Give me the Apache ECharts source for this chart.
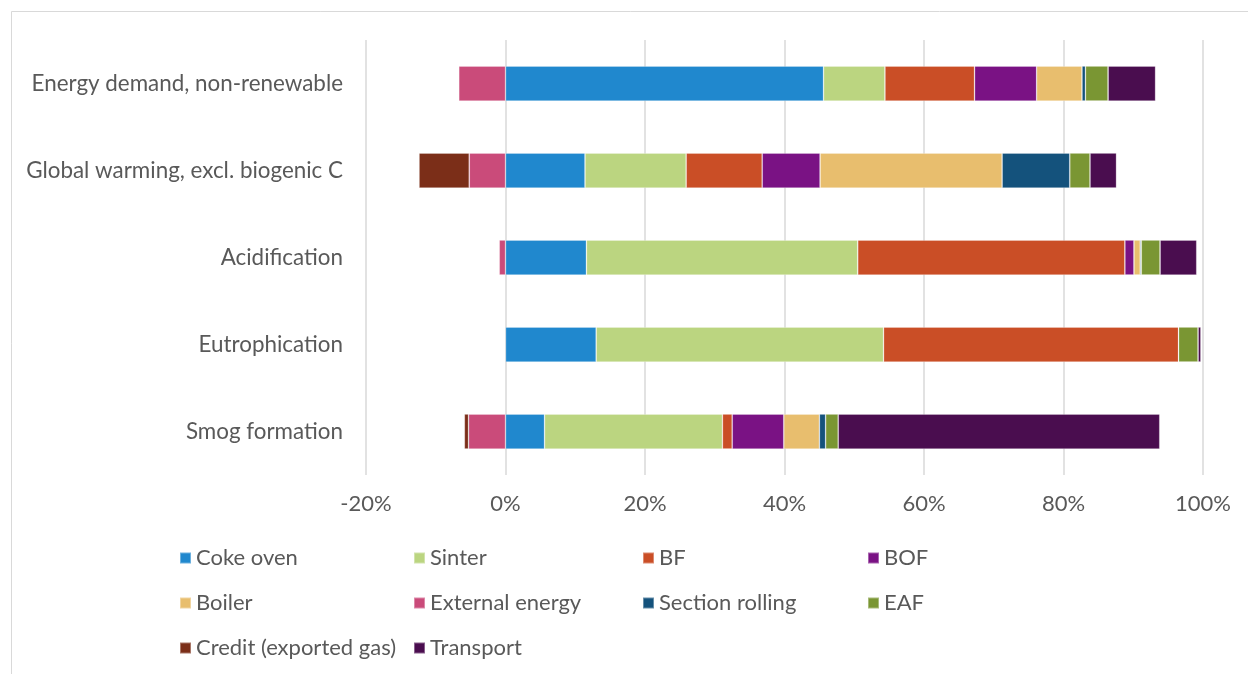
<!DOCTYPE html>
<html>
<head>
<meta charset="utf-8">
<title>Impact contribution by process</title>
<script src="https://cdn.jsdelivr.net/npm/echarts@6/dist/echarts.min.js"></script>
<style>
  html, body { margin: 0; padding: 0; background: #ffffff; }
  #chart { width: 1248px; height: 674px; }
</style>
</head>
<body>
<div id="chart"></div>
<script>
// Impact categories, listed top to bottom
const categories = [
  'Energy demand, non-renewable',
  'Global warming, excl. biogenic C',
  'Acidification',
  'Eutrophication',
  'Smog formation'
];

// Share of each process in each impact category (%)
const cokeOven       = [45.6, 11.4, 11.6, 13.0, 5.6];
const sinter         = [8.8, 14.5, 38.9, 41.2, 25.5];
const bf             = [12.85, 10.9, 38.3, 42.3, 1.4];
const bof            = [8.9, 8.3, 1.3, 0, 7.4];
const boiler         = [6.5, 26.1, 0.9, 0, 5.1];
const externalEnergy = [-6.7, -5.2, -0.9, 0, -5.3];
const sectionRolling = [0.5, 9.7, 0.15, 0, 0.9];
const eaf            = [3.25, 2.9, 2.7, 2.8, 1.8];
const credit         = [0, -7.2, 0, 0, -0.6];
const transport      = [6.8, 3.8, 5.25, 0.4, 46.1];

// Axis ticks (%)
const axisMin = -20;
const axisMax = 100;
const axisStep = 20;

const seriesDefs = [
  { name: 'Coke oven',             data: cokeOven,       color: '#2088CE' },
  { name: 'Sinter',                data: sinter,         color: '#BBD580' },
  { name: 'BF',                    data: bf,             color: '#CA4E26' },
  { name: 'BOF',                   data: bof,            color: '#7A1284' },
  { name: 'Boiler',                data: boiler,         color: '#E8BE6E' },
  { name: 'External energy',       data: externalEnergy, color: '#CA4B7A' },
  { name: 'Section rolling',       data: sectionRolling, color: '#14527C' },
  { name: 'EAF',                   data: eaf,            color: '#7A9633' },
  { name: 'Credit (exported gas)', data: credit,         color: '#7B2E18' },
  { name: 'Transport',             data: transport,      color: '#4A0D4F' }
];

const FONT = 'Lato, "Open Sans", sans-serif';
const TEXT_COLOR = '#595959';

const series = seriesDefs.map(d => ({
  name: d.name,
  type: 'bar',
  stack: 'total',
  barWidth: 35,
  data: d.data,
  itemStyle: {
    color: d.color,
    borderColor: 'rgba(255,255,255,0.35)',
    borderWidth: 0.75
  },
  emphasis: { disabled: true }
}));

// Legend laid out in four columns, three rows
function legendColumn(names, left) {
  return {
    orient: 'vertical',
    left: left,
    top: 546,
    padding: 0,
    itemWidth: 11,
    itemHeight: 11,
    itemGap: 21,
    icon: 'rect',
    selectedMode: false,
    data: names,
    textStyle: { fontFamily: FONT, fontSize: 22, color: TEXT_COLOR, lineHeight: 24 }
  };
}

const option = {
  backgroundColor: '#ffffff',
  animation: false,
  color: seriesDefs.map(d => d.color),
  graphic: [{
    type: 'rect',
    shape: { x: 11.5, y: 11.5, width: 1300, height: 700 },
    style: { fill: 'none', stroke: '#d9d9d9', lineWidth: 1 },
    silent: true
  }],
  legend: [
    legendColumn(['Coke oven', 'Boiler', 'Credit (exported gas)'], 179),
    legendColumn(['Sinter', 'External energy', 'Transport'], 413),
    legendColumn(['BF', 'Section rolling'], 642),
    legendColumn(['BOF', 'EAF'], 867)
  ],
  grid: { left: 366, top: 40, width: 837, height: 435, containLabel: false },
  xAxis: {
    type: 'value',
    min: axisMin,
    max: axisMax,
    interval: axisStep,
    axisLine: { show: false },
    axisTick: { show: false },
    splitLine: { show: true, lineStyle: { color: '#d9d9d9', width: 1.5 } },
    axisLabel: {
      formatter: '{value}%',
      margin: 18,
      fontFamily: FONT,
      fontSize: 22,
      color: TEXT_COLOR
    }
  },
  yAxis: {
    type: 'category',
    inverse: true,
    data: categories,
    axisLine: { show: false },
    axisTick: { show: false },
    splitLine: { show: false },
    axisLabel: {
      margin: 23,
      fontFamily: FONT,
      fontSize: 22.4,
      color: TEXT_COLOR
    }
  },
  series: series
};

const chart = echarts.init(document.getElementById('chart'), null, { renderer: 'canvas' });
chart.setOption(option);
</script>
</body>
</html>
